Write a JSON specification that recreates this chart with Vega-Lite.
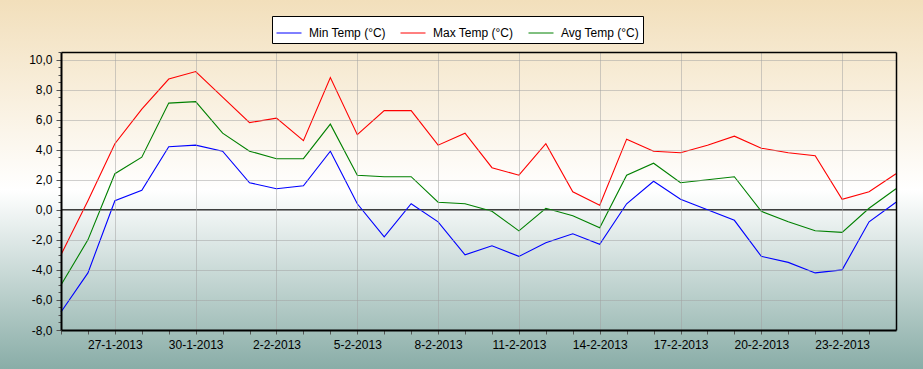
{
  "$schema": "https://vega.github.io/schema/vega-lite/v6.json",
  "width": 835,
  "height": 278,
  "autosize": {"type": "none"},
  "padding": {"left": 61, "top": 52, "right": 27, "bottom": 39},
  "config": {
    "font": "Liberation Sans",
    "view": {"stroke": null},
    "axis": {
      "labelFont": "Liberation Sans",
      "labelFontSize": 12,
      "labelColor": "#000000",
      "tickColor": "#555555",
      "domainColor": "#000000",
      "gridColor": "#a0a0a0",
      "gridDash": [1, 1],
      "gridWidth": 1,
      "title": null
    }
  },
  "layer": [
    {
      "data": {"values": [{}]},
      "mark": {
        "type": "rect",
        "clip": false,
        "fill": {
          "gradient": "linear",
          "x1": 0, "y1": 0, "x2": 0, "y2": 1,
          "stops": [
            {"offset": 0, "color": "#f2dfbb"},
            {"offset": 0.515, "color": "#ffffff"},
            {"offset": 1, "color": "#89ada7"}
          ]
        }
      },
      "encoding": {
        "x": {
          "datum": {"year": 2013, "month": 1, "date": 20, "utc": true},
          "type": "temporal",
          "scale": {"type": "utc", "domain": [{"year": 2013, "month": 1, "date": 25, "utc": true}, {"year": 2013, "month": 2, "date": 25, "utc": true}], "nice": false},
          "axis": {"orient": "top", "zindex": 3, "labels": false, "ticks": false, "grid": false, "domain": true, "domainWidth": 1.5, "domainColor": "#000000"}
        },
        "x2": {"datum": {"year": 2013, "month": 3, "date": 2, "utc": true}},
        "y": {
          "datum": 13.96,
          "type": "quantitative",
          "scale": {"domain": [-8, 10.5], "nice": false, "zero": false},
          "axis": {"orient": "right", "zindex": 3, "labels": false, "ticks": false, "grid": false, "domain": true, "domainWidth": 1.5, "domainColor": "#000000"}
        },
        "y2": {"datum": -10.6}
      }
    },
    {
      "data": {"values": [{}]},
      "mark": {"type": "rule", "color": "#000000", "strokeWidth": 1.3},
      "encoding": {
        "y": {"datum": 0, "type": "quantitative", "axis": null}
      }
    },
    {
      "data": {
        "values": [
          {"date": "2013-01-25", "series": "Min Temp (°C)", "temp": -6.8},
          {"date": "2013-01-26", "series": "Min Temp (°C)", "temp": -4.2},
          {"date": "2013-01-27", "series": "Min Temp (°C)", "temp": 0.6},
          {"date": "2013-01-28", "series": "Min Temp (°C)", "temp": 1.3},
          {"date": "2013-01-29", "series": "Min Temp (°C)", "temp": 4.2},
          {"date": "2013-01-30", "series": "Min Temp (°C)", "temp": 4.3},
          {"date": "2013-01-31", "series": "Min Temp (°C)", "temp": 3.9},
          {"date": "2013-02-01", "series": "Min Temp (°C)", "temp": 1.8},
          {"date": "2013-02-02", "series": "Min Temp (°C)", "temp": 1.4},
          {"date": "2013-02-03", "series": "Min Temp (°C)", "temp": 1.6},
          {"date": "2013-02-04", "series": "Min Temp (°C)", "temp": 3.9},
          {"date": "2013-02-05", "series": "Min Temp (°C)", "temp": 0.4},
          {"date": "2013-02-06", "series": "Min Temp (°C)", "temp": -1.8},
          {"date": "2013-02-07", "series": "Min Temp (°C)", "temp": 0.4},
          {"date": "2013-02-08", "series": "Min Temp (°C)", "temp": -0.8},
          {"date": "2013-02-09", "series": "Min Temp (°C)", "temp": -3.0},
          {"date": "2013-02-10", "series": "Min Temp (°C)", "temp": -2.4},
          {"date": "2013-02-11", "series": "Min Temp (°C)", "temp": -3.1},
          {"date": "2013-02-12", "series": "Min Temp (°C)", "temp": -2.2},
          {"date": "2013-02-13", "series": "Min Temp (°C)", "temp": -1.6},
          {"date": "2013-02-14", "series": "Min Temp (°C)", "temp": -2.3},
          {"date": "2013-02-15", "series": "Min Temp (°C)", "temp": 0.4},
          {"date": "2013-02-16", "series": "Min Temp (°C)", "temp": 1.9},
          {"date": "2013-02-17", "series": "Min Temp (°C)", "temp": 0.7},
          {"date": "2013-02-18", "series": "Min Temp (°C)", "temp": 0.0},
          {"date": "2013-02-19", "series": "Min Temp (°C)", "temp": -0.7},
          {"date": "2013-02-20", "series": "Min Temp (°C)", "temp": -3.1},
          {"date": "2013-02-21", "series": "Min Temp (°C)", "temp": -3.5},
          {"date": "2013-02-22", "series": "Min Temp (°C)", "temp": -4.2},
          {"date": "2013-02-23", "series": "Min Temp (°C)", "temp": -4.0},
          {"date": "2013-02-24", "series": "Min Temp (°C)", "temp": -0.8},
          {"date": "2013-02-25", "series": "Min Temp (°C)", "temp": 0.5},
          {"date": "2013-01-25", "series": "Max Temp (°C)", "temp": -3.0},
          {"date": "2013-01-26", "series": "Max Temp (°C)", "temp": 0.6},
          {"date": "2013-01-27", "series": "Max Temp (°C)", "temp": 4.4},
          {"date": "2013-01-28", "series": "Max Temp (°C)", "temp": 6.7},
          {"date": "2013-01-29", "series": "Max Temp (°C)", "temp": 8.7},
          {"date": "2013-01-30", "series": "Max Temp (°C)", "temp": 9.2},
          {"date": "2013-01-31", "series": "Max Temp (°C)", "temp": 7.5},
          {"date": "2013-02-01", "series": "Max Temp (°C)", "temp": 5.8},
          {"date": "2013-02-02", "series": "Max Temp (°C)", "temp": 6.1},
          {"date": "2013-02-03", "series": "Max Temp (°C)", "temp": 4.6},
          {"date": "2013-02-04", "series": "Max Temp (°C)", "temp": 8.8},
          {"date": "2013-02-05", "series": "Max Temp (°C)", "temp": 5.0},
          {"date": "2013-02-06", "series": "Max Temp (°C)", "temp": 6.6},
          {"date": "2013-02-07", "series": "Max Temp (°C)", "temp": 6.6},
          {"date": "2013-02-08", "series": "Max Temp (°C)", "temp": 4.3},
          {"date": "2013-02-09", "series": "Max Temp (°C)", "temp": 5.1},
          {"date": "2013-02-10", "series": "Max Temp (°C)", "temp": 2.8},
          {"date": "2013-02-11", "series": "Max Temp (°C)", "temp": 2.3},
          {"date": "2013-02-12", "series": "Max Temp (°C)", "temp": 4.4},
          {"date": "2013-02-13", "series": "Max Temp (°C)", "temp": 1.2},
          {"date": "2013-02-14", "series": "Max Temp (°C)", "temp": 0.3},
          {"date": "2013-02-15", "series": "Max Temp (°C)", "temp": 4.7},
          {"date": "2013-02-16", "series": "Max Temp (°C)", "temp": 3.9},
          {"date": "2013-02-17", "series": "Max Temp (°C)", "temp": 3.8},
          {"date": "2013-02-18", "series": "Max Temp (°C)", "temp": 4.3},
          {"date": "2013-02-19", "series": "Max Temp (°C)", "temp": 4.9},
          {"date": "2013-02-20", "series": "Max Temp (°C)", "temp": 4.1},
          {"date": "2013-02-21", "series": "Max Temp (°C)", "temp": 3.8},
          {"date": "2013-02-22", "series": "Max Temp (°C)", "temp": 3.6},
          {"date": "2013-02-23", "series": "Max Temp (°C)", "temp": 0.7},
          {"date": "2013-02-24", "series": "Max Temp (°C)", "temp": 1.2},
          {"date": "2013-02-25", "series": "Max Temp (°C)", "temp": 2.4},
          {"date": "2013-01-25", "series": "Avg Temp (°C)", "temp": -5.0},
          {"date": "2013-01-26", "series": "Avg Temp (°C)", "temp": -2.0},
          {"date": "2013-01-27", "series": "Avg Temp (°C)", "temp": 2.4},
          {"date": "2013-01-28", "series": "Avg Temp (°C)", "temp": 3.5},
          {"date": "2013-01-29", "series": "Avg Temp (°C)", "temp": 7.1},
          {"date": "2013-01-30", "series": "Avg Temp (°C)", "temp": 7.2},
          {"date": "2013-01-31", "series": "Avg Temp (°C)", "temp": 5.1},
          {"date": "2013-02-01", "series": "Avg Temp (°C)", "temp": 3.9},
          {"date": "2013-02-02", "series": "Avg Temp (°C)", "temp": 3.4},
          {"date": "2013-02-03", "series": "Avg Temp (°C)", "temp": 3.4},
          {"date": "2013-02-04", "series": "Avg Temp (°C)", "temp": 5.7},
          {"date": "2013-02-05", "series": "Avg Temp (°C)", "temp": 2.3},
          {"date": "2013-02-06", "series": "Avg Temp (°C)", "temp": 2.2},
          {"date": "2013-02-07", "series": "Avg Temp (°C)", "temp": 2.2},
          {"date": "2013-02-08", "series": "Avg Temp (°C)", "temp": 0.5},
          {"date": "2013-02-09", "series": "Avg Temp (°C)", "temp": 0.4},
          {"date": "2013-02-10", "series": "Avg Temp (°C)", "temp": -0.1},
          {"date": "2013-02-11", "series": "Avg Temp (°C)", "temp": -1.4},
          {"date": "2013-02-12", "series": "Avg Temp (°C)", "temp": 0.1},
          {"date": "2013-02-13", "series": "Avg Temp (°C)", "temp": -0.4},
          {"date": "2013-02-14", "series": "Avg Temp (°C)", "temp": -1.2},
          {"date": "2013-02-15", "series": "Avg Temp (°C)", "temp": 2.3},
          {"date": "2013-02-16", "series": "Avg Temp (°C)", "temp": 3.1},
          {"date": "2013-02-17", "series": "Avg Temp (°C)", "temp": 1.8},
          {"date": "2013-02-18", "series": "Avg Temp (°C)", "temp": 2.0},
          {"date": "2013-02-19", "series": "Avg Temp (°C)", "temp": 2.2},
          {"date": "2013-02-20", "series": "Avg Temp (°C)", "temp": -0.1},
          {"date": "2013-02-21", "series": "Avg Temp (°C)", "temp": -0.8},
          {"date": "2013-02-22", "series": "Avg Temp (°C)", "temp": -1.4},
          {"date": "2013-02-23", "series": "Avg Temp (°C)", "temp": -1.5},
          {"date": "2013-02-24", "series": "Avg Temp (°C)", "temp": 0.1},
          {"date": "2013-02-25", "series": "Avg Temp (°C)", "temp": 1.4}
        ]
      },
      "mark": {"type": "line", "strokeWidth": 1.1},
      "encoding": {
        "x": {
          "field": "date",
          "type": "temporal",
          "scale": {"type": "utc", "domain": [{"year": 2013, "month": 1, "date": 25, "utc": true}, {"year": 2013, "month": 2, "date": 25, "utc": true}], "nice": false},
          "axis": {
            "orient": "bottom",
            "zindex": 3,
            "values": [
              {"year": 2013, "month": 1, "date": 25, "utc": true},
              {"year": 2013, "month": 1, "date": 26, "utc": true},
              {"year": 2013, "month": 1, "date": 27, "utc": true},
              {"year": 2013, "month": 1, "date": 28, "utc": true},
              {"year": 2013, "month": 1, "date": 29, "utc": true},
              {"year": 2013, "month": 1, "date": 30, "utc": true},
              {"year": 2013, "month": 1, "date": 31, "utc": true},
              {"year": 2013, "month": 2, "date": 1, "utc": true},
              {"year": 2013, "month": 2, "date": 2, "utc": true},
              {"year": 2013, "month": 2, "date": 3, "utc": true},
              {"year": 2013, "month": 2, "date": 4, "utc": true},
              {"year": 2013, "month": 2, "date": 5, "utc": true},
              {"year": 2013, "month": 2, "date": 6, "utc": true},
              {"year": 2013, "month": 2, "date": 7, "utc": true},
              {"year": 2013, "month": 2, "date": 8, "utc": true},
              {"year": 2013, "month": 2, "date": 9, "utc": true},
              {"year": 2013, "month": 2, "date": 10, "utc": true},
              {"year": 2013, "month": 2, "date": 11, "utc": true},
              {"year": 2013, "month": 2, "date": 12, "utc": true},
              {"year": 2013, "month": 2, "date": 13, "utc": true},
              {"year": 2013, "month": 2, "date": 14, "utc": true},
              {"year": 2013, "month": 2, "date": 15, "utc": true},
              {"year": 2013, "month": 2, "date": 16, "utc": true},
              {"year": 2013, "month": 2, "date": 17, "utc": true},
              {"year": 2013, "month": 2, "date": 18, "utc": true},
              {"year": 2013, "month": 2, "date": 19, "utc": true},
              {"year": 2013, "month": 2, "date": 20, "utc": true},
              {"year": 2013, "month": 2, "date": 21, "utc": true},
              {"year": 2013, "month": 2, "date": 22, "utc": true},
              {"year": 2013, "month": 2, "date": 23, "utc": true},
              {"year": 2013, "month": 2, "date": 24, "utc": true}
            ],
            "labelExpr": "round((datum.value - 1359072000000) / 86400000) % 3 == 2 ? utcFormat(datum.value, '%-d-%-m-%Y') : ''",
            "labelFlush": false,
            "labelOverlap": false,
            "labelPadding": 5,
            "tickSize": 4,
            "domainWidth": 2,
            "grid": true,
            "gridOpacity": {"condition": {"test": "round((datum.value - 1359072000000) / 86400000) % 3 == 2", "value": 1}, "value": 0}
          }
        },
        "y": {
          "field": "temp",
          "type": "quantitative",
          "scale": {"domain": [-8, 10.5], "nice": false, "zero": false},
          "axis": {
            "orient": "left",
            "zindex": 3,
            "values": [-8, -7.5, -7, -6.5, -6, -5.5, -5, -4.5, -4, -3.5, -3, -2.5, -2, -1.5, -1, -0.5, 0, 0.5, 1, 1.5, 2, 2.5, 3, 3.5, 4, 4.5, 5, 5.5, 6, 6.5, 7, 7.5, 8, 8.5, 9, 9.5, 10, 10.5],
            "labelExpr": "abs(datum.value % 2) < 0.01 ? replace((datum.value < 0 ? '-' : '') + format(abs(datum.value), '.1f'), '.', ',') : ''",
            "labelOverlap": false,
            "labelFlush": false,
            "labelPadding": 4,
            "tickSize": {"condition": {"test": "abs(datum.value % 2) < 0.01", "value": 5}, "value": 3},
            "domainWidth": 2,
            "grid": true,
            "gridOpacity": {"condition": {"test": "abs(datum.value % 2) < 0.01 && datum.value > -7", "value": 1}, "value": 0}
          }
        },
        "color": {
          "field": "series",
          "type": "nominal",
          "scale": {
            "domain": ["Min Temp (°C)", "Max Temp (°C)", "Avg Temp (°C)"],
            "range": ["#0000ff", "#ff0000", "#008000"]
          },
          "legend": {
            "title": null,
            "orient": "none",
            "legendX": 211,
            "legendY": -36,
            "direction": "horizontal",
            "zindex": 4,
            "fillColor": "#ffffff",
            "strokeColor": "#000000",
            "padding": 4,
            "symbolType": "stroke",
            "symbolSize": 625,
            "symbolStrokeWidth": 1,
            "labelFont": "Liberation Sans",
            "labelFontSize": 12,
            "labelColor": "#000000",
            "labelOffset": 7,
            "columnPadding": 12
          }
        }
      }
    }
  ],
  "resolve": {"axis": {"x": "independent", "y": "independent"}}
}
